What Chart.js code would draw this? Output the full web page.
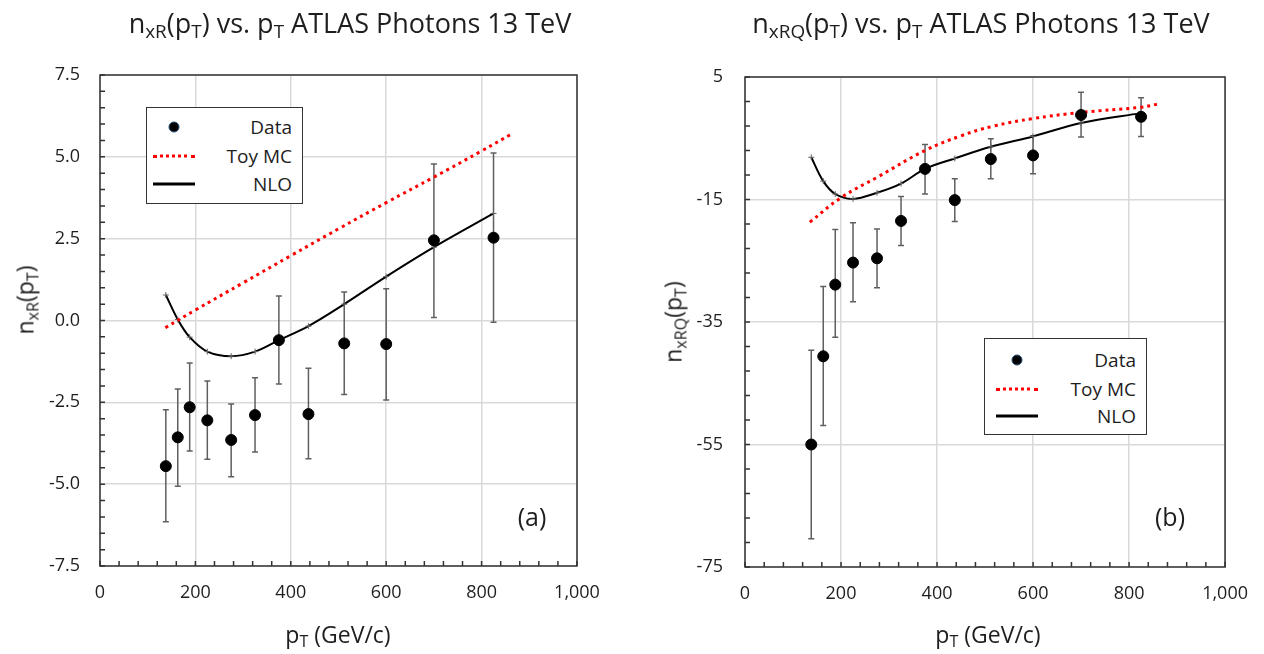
<!DOCTYPE html>
<html>
<head>
<meta charset="utf-8">
<script src="https://cdn.jsdelivr.net/npm/chart.js@4.4.0/dist/chart.umd.min.js"></script>
<style>
  body { margin: 0; background: #fff; font-family: "Open Sans", sans-serif; color: #1e1e1e; }
  #lienzo { position: relative; width: 1264px; height: 654px; overflow: hidden; }
  canvas { position: absolute; top: 0; }
  .texto { position: absolute; white-space: nowrap; transform: translate(-50%, -50%); line-height: 1; }
  .texto sub { font-size: 0.7em; vertical-align: -0.3em; line-height: 0; }
  .titulo { font-size: 27px; }
  .eje-x { font-size: 23px; }
  .eje-y { font-size: 23px; transform: translate(-50%, -50%) rotate(-90deg); }
  .panel { font-size: 25px; }
  .leyenda { position: absolute; border: 1.5px solid #333; background: #fff; box-sizing: border-box; font-size: 19px; }
  .leyenda .fila { position: absolute; left: 0; right: 10px; height: 0; }
  .leyenda .etq { position: absolute; right: 0; transform: translateY(-50%); line-height: 1; }
  .leyenda .punto { position: absolute; width: 9px; height: 9px; border-radius: 50%; background: #000; border: 1px solid #1f4e79; transform: translate(-50%, -50%); }
  .leyenda .linea { position: absolute; height: 0; transform: translateY(-50%); }
</style>
</head>
<body>
<div id="lienzo">
  <canvas id="graficaA" width="632" height="654" style="left:0"></canvas>
  <canvas id="graficaB" width="632" height="654" style="left:632px"></canvas>

  <div class="texto titulo" style="left:350px; top:22px">n<sub>xR</sub>(p<sub>T</sub>) vs. p<sub>T</sub> ATLAS Photons 13 TeV</div>
  <div class="texto titulo" style="left:981px; top:22px">n<sub>xRQ</sub>(p<sub>T</sub>) vs. p<sub>T</sub> ATLAS Photons 13 TeV</div>

  <div class="texto eje-x" style="left:338px; top:634px">p<sub>T</sub> (GeV/c)</div>
  <div class="texto eje-x" style="left:988px; top:634px">p<sub>T</sub> (GeV/c)</div>

  <div class="texto eje-y" style="left:25px; top:300px">n<sub>xR</sub>(p<sub>T</sub>)</div>
  <div class="texto eje-y" style="left:673px; top:322px">n<sub>xRQ</sub>(p<sub>T</sub>)</div>

  <div class="texto panel" style="left:532px; top:516px">(a)</div>
  <div class="texto panel" style="left:1170px; top:516px">(b)</div>
</div>

<script>
// --- Datos panel (a): n_xR ---
const ptDatos = [138, 163, 188, 225, 275, 325, 375, 437, 512, 600, 700, 825];
const nxrDatos = [-4.45, -3.57, -2.65, -3.05, -3.65, -2.89, -0.60, -2.86, -0.70, -0.72, 2.45, 2.53];
const nxrErrMin = [-6.15, -5.06, -3.99, -4.24, -4.77, -4.02, -1.94, -4.22, -2.26, -2.43, 0.09, -0.05];
const nxrErrMax = [-2.73, -2.09, -1.30, -1.85, -2.55, -1.75, 0.75, -1.46, 0.87, 0.97, 4.78, 5.12];
const nxrNLO = [0.78, 0.03, -0.51, -0.95, -1.09, -0.95, -0.60, -0.17, 0.50, 1.34, 2.24, 3.27];
const ptToyA = [137, 200, 300, 400, 500, 600, 700, 800, 863];
const nxrToy = [-0.22, 0.32, 1.15, 1.98, 2.80, 3.60, 4.38, 5.18, 5.70];

// --- Datos panel (b): n_xRQ ---
const nxrqDatos = [-55.0, -40.6, -28.9, -25.3, -24.6, -18.5, -10.0, -15.1, -8.4, -7.8, -1.2, -1.5];
const nxrqErrMin = [-70.4, -51.9, -37.5, -31.7, -29.4, -22.5, -14.1, -18.6, -11.6, -10.8, -4.8, -4.7];
const nxrqErrMax = [-39.6, -29.2, -19.9, -18.8, -19.8, -14.5, -6.0, -11.6, -5.1, -4.6, 2.5, 1.6];
const nxrqNLO = [-8.1, -12.0, -14.1, -14.9, -13.9, -12.4, -10.0, -8.3, -6.4, -4.7, -2.5, -0.9];
const ptToyB = [135, 200, 277, 375, 450, 516, 599, 699, 823, 862];
const nxrqToy = [-18.7, -14.7, -11.3, -7.0, -4.6, -3.05, -1.8, -0.8, 0.05, 0.6];

// --- Ejes ---
const ticksX = { min: 0, max: 1000, paso: 200, menor: 40 };
const ticksYA = { min: -7.5, max: 7.5, paso: 2.5, menor: 0.5 };
const ticksYB = { min: -75, max: 5, paso: 20, menor: 4 };
const etiquetasLeyenda = ['Data', 'Toy MC', 'NLO'];

const fuente = '"Open Sans", sans-serif';
const pares = (xs, ys) => xs.map((x, i) => ({ x, y: ys[i] }));

// --- Plugins ---
const barrasError = {
  id: 'barrasError',
  beforeDatasetsDraw(chart) {
    const { ctx, scales: { x, y } } = chart;
    chart.data.datasets.forEach(ds => {
      if (!ds.errMin) return;
      ctx.save();
      ctx.strokeStyle = '#5f5f5f';
      ctx.lineWidth = 1.5;
      ctx.beginPath();
      ds.data.forEach((p, j) => {
        const px = x.getPixelForValue(p.x);
        const y1 = y.getPixelForValue(ds.errMin[j]);
        const y2 = y.getPixelForValue(ds.errMax[j]);
        ctx.moveTo(px, y1); ctx.lineTo(px, y2);
        ctx.moveTo(px - 3, y1); ctx.lineTo(px + 3, y1);
        ctx.moveTo(px - 3, y2); ctx.lineTo(px + 3, y2);
      });
      ctx.stroke();
      ctx.restore();
    });
  }
};

const marcoEjes = {
  id: 'marcoEjes',
  afterDraw(chart) {
    const { ctx, chartArea: a, scales: { x, y } } = chart;
    const cfg = chart.config.options.menores;
    ctx.save();
    ctx.strokeStyle = '#333';
    ctx.lineWidth = 1.5;
    ctx.beginPath();
    for (let v = x.min; v <= x.max + 1e-9; v += cfg.x) {
      const px = x.getPixelForValue(v);
      ctx.moveTo(px, a.bottom); ctx.lineTo(px, a.bottom - 5);
    }
    for (let v = y.min; v <= y.max + 1e-9; v += cfg.y) {
      const py = y.getPixelForValue(v);
      ctx.moveTo(a.left, py); ctx.lineTo(a.left + 5, py);
    }
    ctx.stroke();
    ctx.strokeRect(a.left, a.top, a.right - a.left, a.bottom - a.top);
    ctx.restore();
  }
};

function crearGrafica(id, cfg) {
  const datasets = [
    {
      label: etiquetasLeyenda[0],
      data: pares(ptDatos, cfg.datos),
      errMin: cfg.errMin,
      errMax: cfg.errMax,
      showLine: false,
      pointRadius: 5.5,
      pointBackgroundColor: '#000',
      pointBorderColor: '#000'
    },
    {
      label: etiquetasLeyenda[1],
      data: pares(cfg.toyX, cfg.toy),
      showLine: true,
      borderColor: '#ff0000',
      borderWidth: 3,
      borderDash: [3, 4],
      tension: 0.4,
      pointRadius: 0
    },
    {
      label: etiquetasLeyenda[2],
      data: pares(ptDatos, cfg.nlo),
      showLine: true,
      borderColor: '#000',
      borderWidth: 2,
      tension: 0.35,
      pointStyle: 'cross',
      pointRadius: 3,
      pointBorderColor: '#666',
      pointBorderWidth: 1
    }
  ];

  return new Chart(document.getElementById(id), {
    type: 'scatter',
    data: { datasets },
    options: {
      responsive: false,
      animation: false,
      menores: { x: ticksX.menor, y: cfg.ejeY.menor },
      layout: { padding: { top: cfg.area.top, right: cfg.area.right, bottom: 0, left: 0 } },
      plugins: { legend: { display: false }, tooltip: { enabled: false } },
      scales: {
        x: {
          type: 'linear',
          min: ticksX.min, max: ticksX.max,
          afterFit: s => { s.height = cfg.area.bottom; },
          ticks: {
            stepSize: ticksX.paso, padding: 16, color: '#1e1e1e',
            font: { family: fuente, size: 18 },
            callback: v => v.toLocaleString('en-US')
          },
          grid: { color: '#d9d9d9', lineWidth: 1.5, drawTicks: false },
          border: { display: false }
        },
        y: {
          min: cfg.ejeY.min, max: cfg.ejeY.max,
          afterFit: s => { s.width = cfg.area.left; },
          ticks: {
            stepSize: cfg.ejeY.paso, padding: cfg.padY, color: '#1e1e1e',
            font: { family: fuente, size: 18 },
            callback: v => cfg.decimales ? v.toFixed(1) : String(v)
          },
          grid: { color: '#d9d9d9', lineWidth: 1.5, drawTicks: false },
          border: { display: false }
        }
      }
    },
    plugins: [barrasError, marcoEjes]
  });
}

// --- Leyenda en HTML ---
function crearLeyenda(caja) {
  const div = document.createElement('div');
  div.className = 'leyenda';
  Object.assign(div.style, { left: caja.left + 'px', top: caja.top + 'px', width: caja.width + 'px', height: caja.height + 'px' });
  caja.filas.forEach((yFila, i) => {
    const fila = document.createElement('div');
    fila.className = 'fila';
    fila.style.top = yFila + 'px';
    if (i === 0) {
      const p = document.createElement('div');
      p.className = 'punto';
      p.style.left = caja.marca + 'px';
      fila.appendChild(p);
    } else {
      const l = document.createElement('div');
      l.className = 'linea';
      l.style.left = (caja.marca - 21) + 'px';
      l.style.width = '42px';
      l.style.borderTop = i === 1 ? '3.5px dotted #ff0000' : '3px solid #000';
      fila.appendChild(l);
    }
    const t = document.createElement('div');
    t.className = 'etq';
    t.textContent = etiquetasLeyenda[i];
    fila.appendChild(t);
    div.appendChild(fila);
  });
  document.getElementById('lienzo').appendChild(div);
}

crearGrafica('graficaA', {
  datos: nxrDatos, errMin: nxrErrMin, errMax: nxrErrMax, nlo: nxrNLO,
  toyX: ptToyA, toy: nxrToy, ejeY: ticksYA, decimales: true, padY: 20,
  area: { left: 100, top: 75, right: 55, bottom: 88 }
});

crearGrafica('graficaB', {
  datos: nxrqDatos, errMin: nxrqErrMin, errMax: nxrqErrMax, nlo: nxrqNLO,
  toyX: ptToyB, toy: nxrqToy, ejeY: ticksYB, decimales: false, padY: 22,
  area: { left: 113, top: 77, right: 32, bottom: 87 }
});

crearLeyenda({ left: 146, top: 107, width: 157, height: 97, marca: 27, filas: [19, 48, 76] });
crearLeyenda({ left: 984, top: 338, width: 163, height: 97, marca: 32, filas: [21, 50, 77] });
</script>
</body>
</html>
